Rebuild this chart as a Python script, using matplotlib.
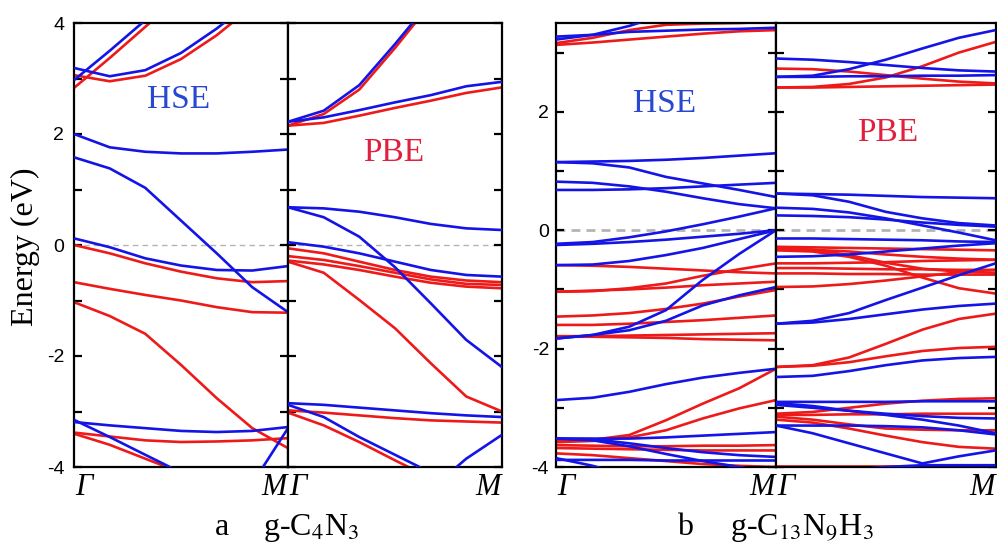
import matplotlib
matplotlib.use("Agg")
import matplotlib.pyplot as plt
from matplotlib.ticker import MultipleLocator

plt.rcParams['font.family'] = ['Liberation Serif', 'DejaVu Serif']
plt.rcParams['mathtext.fontset'] = 'stix'
plt.rcParams['axes.unicode_minus'] = False

# k-path sample positions (fraction of Gamma -> M)
K = [0.0, 0.167, 0.333, 0.5, 0.667, 0.833, 1.0]

# ---------------- panel a : g-C4N3 ----------------
A_HSE_BLUE = [
    [2.0, 1.76, 1.68, 1.65, 1.65, 1.68, 1.72],
    [1.58, 1.38, 1.03, 0.44, -0.15, -0.76, -1.21],
    [0.12, -0.04, -0.24, -0.37, -0.45, -0.46, -0.38],
    [2.97, 3.5, 4.05, 4.6, 5.2, 5.8, 6.4],
    [3.19, 3.04, 3.15, 3.46, 3.9, 4.4, 5.0],
    [-3.19, -3.25, -3.3, -3.35, -3.37, -3.35, -3.28],
    [-3.15, -3.46, -3.78, -4.1, -4.4, -4.7, -5.0],
    [-5.0, -5.0, -5.0, -5.0, -4.8, -4.3, -3.3],
]
A_HSE_RED = [
    [0.0, -0.15, -0.33, -0.48, -0.6, -0.67, -0.65],
    [-0.67, -0.79, -0.9, -1.0, -1.12, -1.21, -1.22],
    [-1.03, -1.28, -1.6, -2.16, -2.76, -3.3, -3.66],
    [2.83, 3.37, 3.93, 4.5, 5.1, 5.7, 6.3],
    [3.06, 2.95, 3.05, 3.35, 3.78, 4.3, 4.9],
    [-3.38, -3.45, -3.52, -3.55, -3.54, -3.52, -3.48],
    [-3.4, -3.6, -3.85, -4.1, -4.4, -4.7, -5.0],
]
A_PBE_BLUE = [
    [2.22, 2.42, 2.88, 3.62, 4.4, 5.2, 6.0],
    [2.22, 2.3, 2.43, 2.57, 2.7, 2.86, 2.94],
    [0.68, 0.66, 0.6, 0.5, 0.38, 0.3, 0.27],
    [0.68, 0.5, 0.15, -0.4, -1.05, -1.71, -2.2],
    [0.05, -0.03, -0.15, -0.3, -0.45, -0.54, -0.57],
    [-2.85, -2.88, -2.93, -2.98, -3.03, -3.07, -3.1],
    [-2.88, -3.1, -3.46, -3.78, -4.1, -4.4, -4.7],
    [-5.0, -5.0, -5.0, -5.0, -4.4, -3.85, -3.42],
]
A_PBE_RED = [
    [2.15, 2.36, 2.8, 3.55, 4.35, 5.15, 5.95],
    [2.15, 2.2, 2.33, 2.47, 2.6, 2.74, 2.84],
    [-0.06, -0.15, -0.3, -0.45, -0.57, -0.64, -0.67],
    [-0.2, -0.27, -0.38, -0.5, -0.62, -0.7, -0.72],
    [-0.3, -0.5, -0.99, -1.5, -2.13, -2.73, -3.0],
    [-0.28, -0.35, -0.45, -0.57, -0.68, -0.75, -0.78],
    [-2.98, -3.02, -3.07, -3.12, -3.16, -3.18, -3.2],
    [-3.02, -3.25, -3.55, -3.88, -4.2, -4.5, -4.8],
]

# ---------------- panel b : g-C13N9H3 ----------------
B_HSE_BLUE = [
    [3.27, 3.3, 3.35, 3.37, 3.39, 3.4, 3.42],
    [3.22, 3.3, 3.45, 3.65, 3.85, 4.0, 4.2],
    [1.15, 1.16, 1.17, 1.19, 1.22, 1.26, 1.3],
    [1.15, 1.13, 1.06, 0.9, 0.79, 0.68, 0.56],
    [0.82, 0.8, 0.74, 0.65, 0.54, 0.44, 0.37],
    [0.68, 0.68, 0.69, 0.71, 0.74, 0.77, 0.8],
    [-0.23, -0.2, -0.12, -0.02, 0.1, 0.23, 0.37],
    [-0.25, -0.23, -0.2, -0.16, -0.11, -0.06, 0.0],
    [-0.59, -0.58, -0.52, -0.42, -0.3, -0.15, 0.0],
    [-1.83, -1.77, -1.63, -1.35, -0.84, -0.4, 0.0],
    [-1.83, -1.77, -1.69, -1.53, -1.27, -1.1, -0.96],
    [-2.87, -2.83, -2.73, -2.6, -2.49, -2.41, -2.34],
    [-3.52, -3.52, -3.52, -3.5, -3.47, -3.44, -3.41],
    [-3.52, -3.53, -3.6, -3.68, -3.75, -3.8, -3.83],
    [-3.52, -3.55, -3.65, -3.78, -3.9, -4.0, -4.1],
    [-3.85, -3.98, -4.15, -4.3, -4.45, -4.6, -4.75],
    [-3.88, -3.88, -3.88, -3.89, -3.89, -3.89, -3.89],
]
B_HSE_RED = [
    [3.13, 3.17, 3.22, 3.27, 3.32, 3.36, 3.38],
    [3.16, 3.25, 3.38, 3.47, 3.49, 3.5, 3.52],
    [-0.59, -0.6, -0.62, -0.65, -0.68, -0.71, -0.73],
    [-1.04, -1.03, -0.98, -0.9, -0.77, -0.66, -0.56],
    [-1.04, -1.02, -1.0, -0.97, -0.93, -0.9, -0.87],
    [-1.46, -1.44, -1.4, -1.33, -1.24, -1.12, -1.01],
    [-1.6, -1.6, -1.58, -1.55, -1.52, -1.48, -1.44],
    [-1.79, -1.79, -1.78, -1.77, -1.76, -1.75, -1.74],
    [-1.8, -1.8, -1.81, -1.82, -1.84, -1.85, -1.86],
    [-3.55, -3.54, -3.46, -3.21, -2.93, -2.67, -2.34],
    [-3.58, -3.56, -3.5, -3.38, -3.18, -3.01, -2.87],
    [-3.63, -3.64, -3.65, -3.65, -3.64, -3.64, -3.63],
    [-3.68, -3.69, -3.7, -3.71, -3.72, -3.72, -3.72],
    [-3.77, -3.8, -3.85, -3.9, -3.95, -3.98, -4.0],
]
B_PBE_BLUE = [
    [2.9, 2.88, 2.84, 2.79, 2.74, 2.7, 2.68],
    [2.59, 2.61, 2.72, 2.88, 3.07, 3.25, 3.38],
    [2.59, 2.59, 2.6, 2.6, 2.61, 2.61, 2.62],
    [0.62, 0.61, 0.6, 0.58, 0.56, 0.55, 0.54],
    [0.62, 0.59, 0.48, 0.31, 0.2, 0.12, 0.08],
    [0.38, 0.36, 0.3, 0.2, 0.08, -0.04, -0.17],
    [0.25, 0.24, 0.22, 0.18, 0.13, 0.09, 0.06],
    [-0.14, -0.14, -0.15, -0.16, -0.17, -0.19, -0.2],
    [-0.45, -0.44, -0.41, -0.36, -0.31, -0.26, -0.22],
    [-1.58, -1.53, -1.4, -1.18, -0.97, -0.76, -0.56],
    [-1.58, -1.56, -1.5, -1.42, -1.34, -1.28, -1.24],
    [-2.48, -2.46, -2.38, -2.28, -2.2, -2.16, -2.14],
    [-2.9, -2.9, -2.9, -2.9, -2.89, -2.89, -2.89],
    [-2.92, -2.97, -3.05, -3.12, -3.2, -3.3, -3.43],
    [-2.95, -3.0, -3.05, -3.1, -3.14, -3.17, -3.18],
    [-3.3, -3.43, -3.6, -3.77, -3.94, -3.82, -3.72],
    [-3.3, -3.3, -3.3, -3.31, -3.33, -3.38, -3.45],
    [-4.1, -4.1, -4.05, -4.0, -3.97, -3.97, -3.97],
]
B_PBE_RED = [
    [2.73, 2.72, 2.68, 2.62, 2.56, 2.51, 2.48],
    [2.41, 2.42, 2.47, 2.58, 2.77, 3.0, 3.18],
    [2.41, 2.41, 2.42, 2.43, 2.44, 2.45, 2.46],
    [-0.28, -0.29, -0.3, -0.31, -0.32, -0.33, -0.34],
    [-0.32, -0.33, -0.36, -0.41, -0.45, -0.48, -0.5],
    [-0.3, -0.33, -0.42, -0.55, -0.65, -0.7, -0.72],
    [-0.34, -0.36, -0.45, -0.6, -0.8, -0.98, -1.07],
    [-0.56, -0.56, -0.55, -0.54, -0.52, -0.51, -0.5],
    [-0.64, -0.64, -0.65, -0.66, -0.66, -0.67, -0.67],
    [-0.73, -0.73, -0.74, -0.74, -0.75, -0.75, -0.75],
    [-0.96, -0.95, -0.91, -0.85, -0.78, -0.71, -0.67],
    [-2.31, -2.29, -2.23, -2.13, -2.04, -1.99, -1.97],
    [-2.31, -2.28, -2.15, -1.92, -1.68, -1.5, -1.41],
    [-3.1, -3.07, -3.0, -2.93, -2.88, -2.85, -2.84],
    [-3.12, -3.12, -3.11, -3.11, -3.1, -3.1, -3.1],
    [-3.15, -3.2, -3.28, -3.35, -3.37, -3.38, -3.38],
    [-3.2, -3.25, -3.35, -3.47, -3.58, -3.66, -3.69],
    [-3.99, -3.99, -3.99, -3.99, -3.99, -3.99, -3.99],
]

Y_RANGE_A = (-4, 4)
Y_RANGE_B = (-4, 3.5)
PANEL_LABELS = ['a', 'b']
FORMULAS = [r'g-C$_4$N$_3$', r'g-C$_{13}$N$_9$H$_3$']

BLUE = '#1414e6'
RED = '#ee1a1a'
TXT_BLUE = '#2848d2'
TXT_RED = '#e0203c'

W, H = 997, 550
fig = plt.figure(figsize=(W / 100, H / 100), dpi=100)

def px_axes(x0, x1, y_top, y_bot):
    return fig.add_axes([x0 / W, 1 - y_bot / H, (x1 - x0) / W, (y_bot - y_top) / H])

def style(ax, ylim, show_labels, pad, zero_lw, zero_dash):
    ax.set_xlim(0, 1)
    ax.set_ylim(*ylim)
    ax.set_xticks([])
    ax.yaxis.set_major_locator(MultipleLocator(2))
    ax.yaxis.set_minor_locator(MultipleLocator(1))
    ax.tick_params(axis='y', which='both', direction='in', left=True, right=True,
                   length=6, width=1.6, labelleft=show_labels, labelsize=14,
                   labelfontfamily='Liberation Sans', pad=pad)
    for s in ax.spines.values():
        s.set_linewidth(1.6)
    ax.axhline(0, color='#b4b4b4', lw=zero_lw, dashes=zero_dash, zorder=1)

def draw(ax, reds, blues):
    for b in reds:
        ax.plot(K, b, color=RED, lw=1.9, zorder=2, solid_capstyle='butt')
    for b in blues:
        ax.plot(K, b, color=BLUE, lw=1.9, zorder=3, solid_capstyle='butt')

# panel a
a1 = px_axes(74, 288, 23, 467)
a2 = px_axes(288, 502, 23, 467)
style(a1, Y_RANGE_A, True, 7, 1.0, (4, 3))
style(a2, Y_RANGE_A, False, 7, 1.0, (4, 3))
draw(a1, A_HSE_RED, A_HSE_BLUE)
draw(a2, A_PBE_RED, A_PBE_BLUE)

# panel b
b1 = px_axes(556, 776, 23, 467)
b2 = px_axes(776, 995.5, 23, 467)
style(b1, Y_RANGE_B, True, 5, 2.0, (3.2, 2.2))
style(b2, Y_RANGE_B, False, 5, 2.0, (3.2, 2.2))
draw(b1, B_HSE_RED, B_HSE_BLUE)
draw(b2, B_PBE_RED, B_PBE_BLUE)

# method labels
a1.text(0.49, 2.61, 'HSE', color=TXT_BLUE, fontsize=24, ha='center', va='center')
a2.text(0.495, 1.66, 'PBE', color=TXT_RED, fontsize=24, ha='center', va='center')
b1.text(0.495, 2.13, 'HSE', color=TXT_BLUE, fontsize=24, ha='center', va='center')
b2.text(0.51, 1.64, 'PBE', color=TXT_RED, fontsize=24, ha='center', va='center')

# k-point labels
base_k = 1 - 495 / H
for ax in (a1, a2, b1, b2):
    x0 = ax.get_position().x0
    x1 = ax.get_position().x1
    fig.text(x0 + 1 / W, base_k, 'Γ', fontsize=22, style='italic', ha='left', va='baseline')
    fig.text(x1 - 1 / W, base_k, 'M', fontsize=22, style='italic', ha='right', va='baseline')

# y label
fig.text(25 / W, 1 - 247 / H, 'Energy (eV)', fontsize=23, rotation=90,
         ha='center', va='center')

# panel captions
base_c = 1 - 535 / H
fig.text(222 / W, base_c, PANEL_LABELS[0], fontsize=23, ha='center', va='baseline')
fig.text(263 / W, base_c, FORMULAS[0], fontsize=23, ha='left', va='baseline')
fig.text(685 / W, base_c, PANEL_LABELS[1], fontsize=23, ha='center', va='baseline')
fig.text(730 / W, base_c, FORMULAS[1], fontsize=23, ha='left', va='baseline')

fig.savefig('out.png', dpi=100)
